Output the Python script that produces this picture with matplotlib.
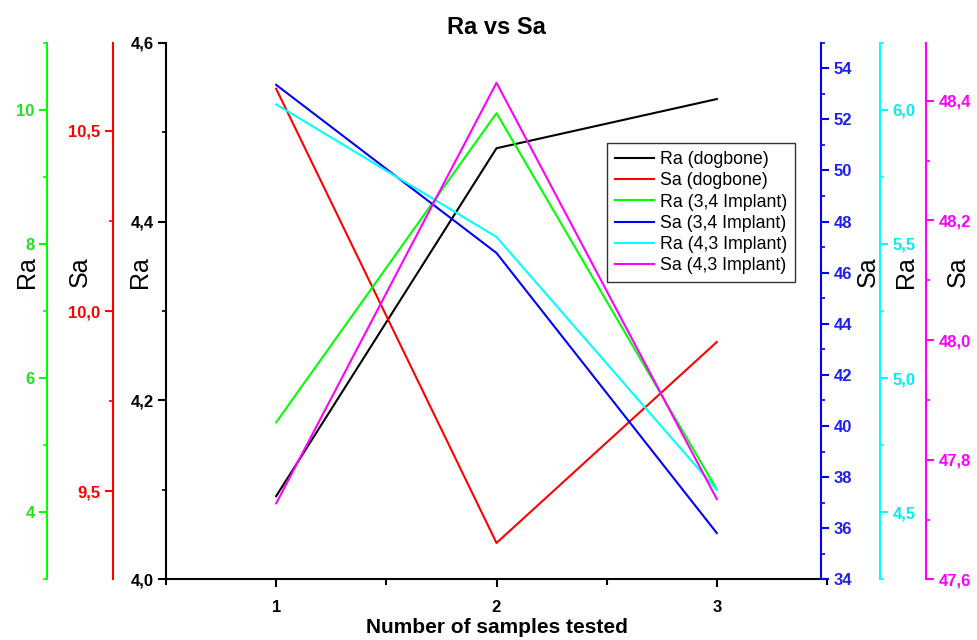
import matplotlib
matplotlib.use('Agg')
import matplotlib.pyplot as plt
from matplotlib.ticker import FixedLocator, FuncFormatter

plt.rcParams['font.family'] = ['Liberation Sans', 'DejaVu Sans']

samples = [1, 2, 3]
ra_dogbone = [4.093, 4.482, 4.537]
sa_dogbone = [10.617, 9.356, 9.914]
ra_34 = [5.34, 9.95, 4.34]
sa_34 = [53.35, 46.77, 35.81]
ra_43 = [6.02, 5.526, 4.583]
sa_43 = [47.727, 48.43, 47.734]


def comma(dec):
    return FuncFormatter(lambda v, p: f'{v:.{dec}f}'.replace('.', ','))


fig = plt.figure(figsize=(9.77, 6.4), dpi=100)
ax = fig.add_axes([166 / 977, 0.0948, 661 / 977, 0.8385])
ax.spines['top'].set_visible(False)
ax.spines['right'].set_visible(False)

# data, line colour, label colour, ylim, majors, minor step, decimals, side, spine pos, label, label x, legend name
specs = [
    (ra_dogbone, 'black', 'black', (4.0, 4.6), [4.0, 4.2, 4.4, 4.6], 0.1, 1, 'left', 0.0, 'Ra', -0.0209, 'Ra (dogbone)'),
    (sa_dogbone, '#ff0000', '#ff0000', (9.255, 10.745), [9.5, 10.0, 10.5], 0.25, 1, 'left', -0.0808, 'Sa', -0.1123, 'Sa (dogbone)'),
    (ra_34, '#00ff00', '#22e022', (3.0, 11.0), [4, 6, 8, 10], 1.0, 0, 'left', -0.1800, 'Ra', -0.1926, 'Ra (3,4 Implant)'),
    (sa_34, '#0000ff', '#2020ee', (34, 55), [34, 36, 38, 40, 42, 44, 46, 48, 50, 52, 54], 1.0, 0, 'right', 0.991, 'Sa', 1.0434, 'Sa (3,4 Implant)'),
    (ra_43, '#00ffff', '#00f0f0', (4.25, 6.25), [4.5, 5.0, 5.5, 6.0], 0.25, 1, 'right', 1.080, 'Ra', 1.1008, 'Ra (4,3 Implant)'),
    (sa_43, '#ff00ff', '#ff00ff', (47.6, 48.497), [47.6, 47.8, 48.0, 48.2, 48.4], 0.1, 1, 'right', 1.150, 'Sa', 1.180, 'Sa (4,3 Implant)'),
]

handles = []
for i, (data, col, tcol, lim, majors, mstep, dec, side, pos, lab, labx, name) in enumerate(specs):
    a = ax if i == 0 else ax.twinx()
    if i > 0:
        for s in ['top', 'bottom', 'left', 'right']:
            a.spines[s].set_visible(False)
        a.patch.set_visible(False)
    a.spines[side].set_visible(True)
    a.spines[side].set_position(('axes', pos))
    a.spines[side].set_color(col)
    a.spines[side].set_linewidth(1.5)
    a.yaxis.set_ticks_position(side)
    a.yaxis.set_label_position(side)
    line, = a.plot(samples, data, color=col, lw=1.5, label=name)
    handles.append(line)
    a.set_ylim(*lim)
    a.yaxis.set_major_locator(FixedLocator(majors))
    n0 = int(round(lim[0] / mstep))
    n1 = int(round(lim[1] / mstep))
    minors = [k * mstep for k in range(n0, n1 + 1)
              if lim[0] - 1e-6 <= k * mstep <= lim[1] + 1e-6
              and all(abs(k * mstep - m) > 1e-6 for m in majors)]
    a.yaxis.set_minor_locator(FixedLocator(minors))
    a.yaxis.set_major_formatter(comma(dec))
    a.tick_params(axis='y', which='major', direction='out', length=6, width=1.5,
                  color=col, labelcolor=tcol, labelsize=12, pad=3)
    a.tick_params(axis='y', which='minor', direction='out', length=3, width=1.2, color=col)
    for t in a.get_yticklabels():
        t.set_fontweight('bold')
    a.set_ylabel(lab, fontsize=18, color='black')
    a.yaxis.set_label_coords(labx, 0.573)

ax.set_xlim(0.5, 3.5)
ax.xaxis.set_major_locator(FixedLocator([1, 2, 3]))
ax.xaxis.set_minor_locator(FixedLocator([0.5, 1.5, 2.5, 3.5]))
ax.xaxis.set_major_formatter(FuncFormatter(lambda v, p: f'{int(v)}'))
ax.tick_params(axis='x', which='major', direction='out', length=6, width=1.5, labelsize=12, pad=9)
ax.tick_params(axis='x', which='minor', direction='out', length=4, width=1.5)
for t in ax.get_xticklabels():
    t.set_fontweight('bold')
ax.spines['bottom'].set_linewidth(1.5)
ax.set_xlabel('Number of samples tested', fontsize=15, fontweight='bold', labelpad=2)
ax.set_title('Ra vs Sa', fontsize=17, fontweight='bold', pad=6)

lg = fig.axes[-1].legend(handles=handles, loc='upper left', bbox_to_anchor=(0.667, 0.813),
                         bbox_transform=ax.transAxes, fontsize=12.8, frameon=True, fancybox=False,
                         borderaxespad=0, handlelength=2.2, handletextpad=0.35,
                         labelspacing=0.24, borderpad=0.45)
lg.get_frame().set_edgecolor('black')
lg.get_frame().set_linewidth(1.0)

fig.savefig('out.png', dpi=100)
